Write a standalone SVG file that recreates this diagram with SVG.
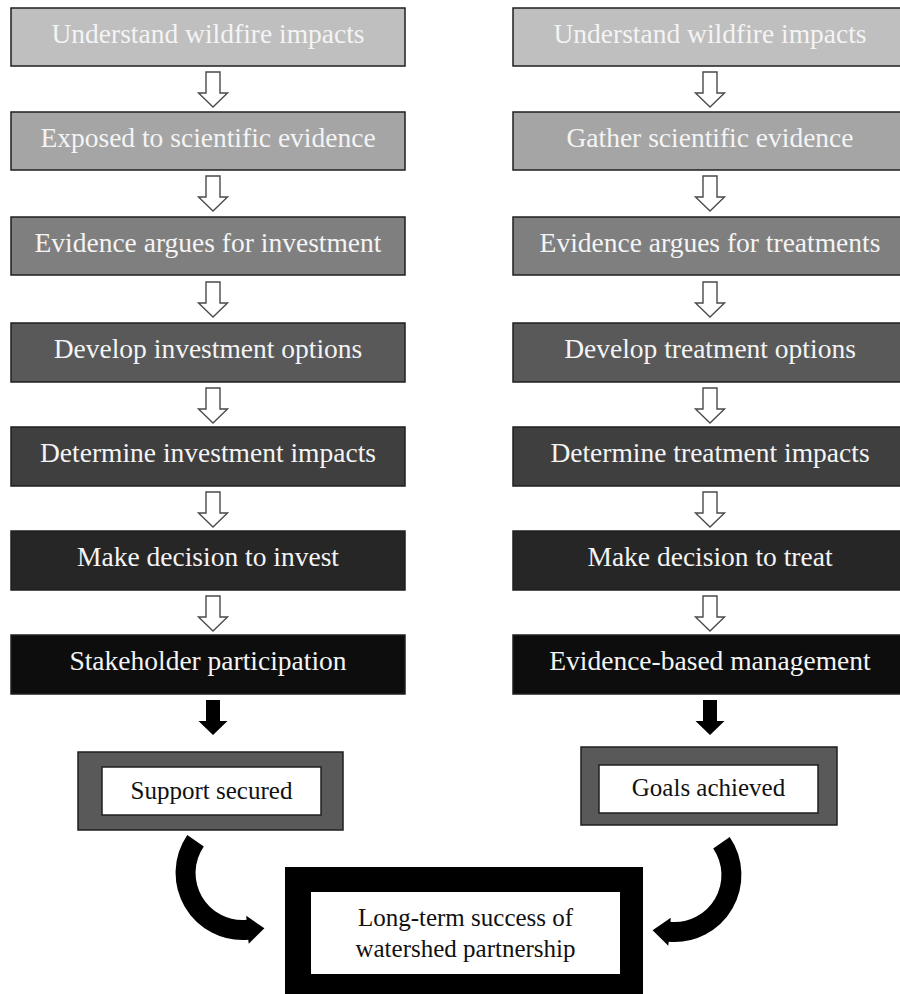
<svg xmlns="http://www.w3.org/2000/svg" xmlns:xlink="http://www.w3.org/1999/xlink" width="900" height="994" viewBox="0 0 900 994" font-family="'Times New Roman', 'Liberation Serif', Tinos, 'DejaVu Serif', serif">
  <style>
    .step { stroke: #1f1f1f; stroke-width: 1.5; }
    .step-text { font-family: 'Times New Roman', 'Liberation Serif', Tinos, 'DejaVu Serif', serif; font-size: 27.5px; fill: #f4f4f4; text-anchor: middle; }
    .out-text { font-family: 'Times New Roman', 'Liberation Serif', Tinos, 'DejaVu Serif', serif; font-size: 25px; fill: #111; text-anchor: middle; }
    .frame { fill: #595959; stroke: #1f1f1f; stroke-width: 1.5; }
    .inner { fill: #ffffff; stroke: #1f1f1f; stroke-width: 1.5; }
    .hollow { fill: #ffffff; stroke: #4a4a4a; stroke-width: 1.4; }
    .solid { fill: #000000; }
    .curve { fill: #000000; }
  </style>
  <defs>
    <!-- block arrow pointing down, origin at top centre of the shaft -->
    <path id="down" d="M-7,0 L7,0 L7,21 L14.5,21 L0,35 L-14.5,21 L-7,21 Z"/>
    <!-- curved arrow: arc band around (242.5,873) ending in a head -->
    <path id="bend" d="M187.3,835.1 A67,67 0 0 0 248.3,939.7 L248.7,943.7 L264.4,928.3 L246.2,915.8 L246.6,919.8 A47,47 0 0 1 203.8,846.4 Z"/>
  </defs>

  <!-- left column -->
  <g id="l1"><rect class="step" x="11" y="8" width="394" height="58" fill="#bfbfbf"/><text class="step-text" x="208" y="43">Understand wildfire impacts</text></g>
  <g id="l2"><rect class="step" x="11" y="112" width="394" height="58" fill="#a5a5a5"/><text class="step-text" x="208" y="147">Exposed to scientific evidence</text></g>
  <g id="l3"><rect class="step" x="11" y="217" width="394" height="58" fill="#7f7f7f"/><text class="step-text" x="208" y="252">Evidence argues for investment</text></g>
  <g id="l4"><rect class="step" x="11" y="323" width="394" height="59" fill="#595959"/><text class="step-text" x="208" y="358">Develop investment options</text></g>
  <g id="l5"><rect class="step" x="11" y="427" width="394" height="59" fill="#3f3f3f"/><text class="step-text" x="208" y="462">Determine investment impacts</text></g>
  <g id="l6"><rect class="step" x="11" y="531" width="394" height="59" fill="#262626"/><text class="step-text" x="208" y="566">Make decision to invest</text></g>
  <g id="l7"><rect class="step" x="11" y="635" width="394" height="59" fill="#0d0d0d"/><text class="step-text" x="208" y="670">Stakeholder participation</text></g>

  <!-- right column -->
  <g id="r1"><rect class="step" x="513" y="8" width="394" height="58" fill="#bfbfbf"/><text class="step-text" x="710" y="43">Understand wildfire impacts</text></g>
  <g id="r2"><rect class="step" x="513" y="112" width="394" height="58" fill="#a5a5a5"/><text class="step-text" x="710" y="147">Gather scientific evidence</text></g>
  <g id="r3"><rect class="step" x="513" y="217" width="394" height="58" fill="#7f7f7f"/><text class="step-text" x="710" y="252">Evidence argues for treatments</text></g>
  <g id="r4"><rect class="step" x="513" y="323" width="394" height="59" fill="#595959"/><text class="step-text" x="710" y="358">Develop treatment options</text></g>
  <g id="r5"><rect class="step" x="513" y="427" width="394" height="59" fill="#3f3f3f"/><text class="step-text" x="710" y="462">Determine treatment impacts</text></g>
  <g id="r6"><rect class="step" x="513" y="531" width="394" height="59" fill="#262626"/><text class="step-text" x="710" y="566">Make decision to treat</text></g>
  <g id="r7"><rect class="step" x="513" y="635" width="394" height="59" fill="#0d0d0d"/><text class="step-text" x="710" y="670">Evidence-based management</text></g>

  <!-- outcomes -->
  <g id="support">
    <rect class="frame" x="78" y="752" width="265" height="78"/>
    <rect class="inner" x="102" y="767" width="219" height="48"/>
    <text class="out-text" x="211.5" y="799">Support secured</text>
  </g>
  <g id="goals">
    <rect class="frame" x="581" y="747" width="256" height="78"/>
    <rect class="inner" x="599" y="765" width="219" height="48"/>
    <text class="out-text" x="708.5" y="796">Goals achieved</text>
  </g>
  <g id="success">
    <rect x="285" y="867" width="358" height="127" fill="#000"/>
    <rect x="311" y="892" width="309" height="82" fill="#fff"/>
    <text class="out-text" x="465.5" y="926" font-size="25.5">Long-term success of</text>
    <text class="out-text" x="465.5" y="957" font-size="25.5">watershed partnership</text>
  </g>

  <!-- connectors -->
  <g id="connectors">
    <use xlink:href="#down" class="hollow" x="213" y="72"/>
    <use xlink:href="#down" class="hollow" x="213" y="176"/>
    <use xlink:href="#down" class="hollow" x="213" y="282"/>
    <use xlink:href="#down" class="hollow" x="213" y="388"/>
    <use xlink:href="#down" class="hollow" x="213" y="492"/>
    <use xlink:href="#down" class="hollow" x="213" y="596"/>
    <use xlink:href="#down" class="solid" x="213" y="700"/>

    <use xlink:href="#down" class="hollow" x="710" y="72"/>
    <use xlink:href="#down" class="hollow" x="710" y="176"/>
    <use xlink:href="#down" class="hollow" x="710" y="282"/>
    <use xlink:href="#down" class="hollow" x="710" y="388"/>
    <use xlink:href="#down" class="hollow" x="710" y="492"/>
    <use xlink:href="#down" class="hollow" x="710" y="596"/>
    <use xlink:href="#down" class="solid" x="710" y="700"/>

    <use xlink:href="#bend" class="curve"/>
    <use xlink:href="#bend" class="curve" transform="translate(917,2) scale(-1,1)"/>
  </g>
</svg>
